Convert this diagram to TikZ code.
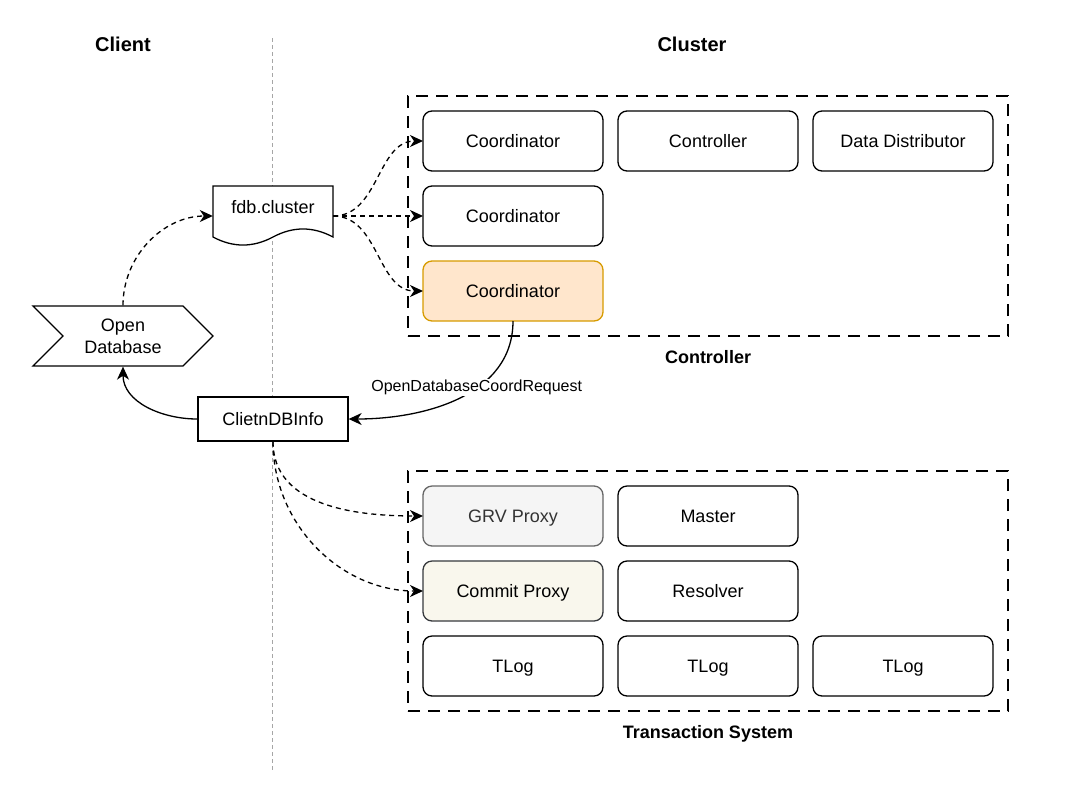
\documentclass[tikz,border=0pt]{standalone}
\usepackage{fontspec}
\setmainfont{Liberation Sans}
\usetikzlibrary{fit}
\usetikzlibrary{positioning}
\usetikzlibrary{shapes.symbols}
\usetikzlibrary{arrows.meta}
\definecolor{hotFill}{HTML}{FFE6CC}
\definecolor{hotLine}{HTML}{D79B00}
\definecolor{grvFill}{HTML}{F5F5F5}
\definecolor{grvLine}{HTML}{666666}
\definecolor{grvText}{HTML}{333333}
\definecolor{commitFill}{HTML}{F9F7ED}
\definecolor{commitLine}{HTML}{36393D}
\definecolor{splitLine}{HTML}{A6A6A6}
\tikzstyle{role} = [draw, line width=1.3pt, rounded corners=9pt, outer sep=0pt, minimum width=180pt, minimum height=60pt, text height=13pt, text depth=1pt, font=\fontsize{18}{22}\selectfont]
\tikzstyle{hot} = [fill=hotFill, draw=hotLine]
\tikzstyle{grv} = [fill=grvFill, draw=grvLine, text=grvText]
\tikzstyle{commit} = [fill=commitFill, draw=commitLine]
\tikzstyle{plain} = [draw, fill=white, line width=1.3pt, minimum width=150pt, minimum height=44pt, font=\fontsize{18}{22}\selectfont]
\tikzstyle{launch} = [draw, fill=white, line width=1.3pt, signal, signal to=east, signal from=west, signal pointer angle=90, minimum width=180pt, minimum height=60pt, inner sep=0pt, align=center, font=\fontsize{18}{22}\selectfont]
\tikzstyle{doc} = [minimum width=120pt, minimum height=60pt, inner sep=0pt, text height=13pt, text depth=18pt, font=\fontsize{18}{22}\selectfont]
\tikzstyle{group} = [draw, line width=1.3pt, dash pattern=on 12pt off 8pt, inner sep=15pt, outer sep=0pt]
\tikzstyle{title} = [font=\bfseries\fontsize{20}{24}\selectfont]
\tikzstyle{caption} = [font=\bfseries\fontsize{18}{22}\selectfont, text height=13pt, text depth=4pt]
\tikzstyle{split} = [draw=splitLine, line width=1pt, dash pattern=on 4pt off 3pt]
\tikzstyle{flow} = [draw, line width=1.3pt, -{Stealth[length=13pt, width=12pt, inset=4pt]}]
\tikzstyle{call} = [flow, dash pattern=on 5pt off 4pt]

\begin{document}
\begin{tikzpicture}[x=1pt, y=-1pt]
	\useasboundingbox (0,0) rectangle (1083,785);
	
	% client | cluster split
	\coordinate (splitTop) at (272,38);
	\coordinate (splitBottom) at (272,772);
	\path[split] (splitTop) -- (splitBottom);
	\node[title] (clientTitle) at (123,44) {Client};
	\node[title] (clusterTitle) at (692,44) {Cluster};
	
	\node[role] (coord1) at (513,141) {Coordinator};
	\node[role, right = 15pt of coord1] (controller) {Controller};
	\node[role, right = 15pt of controller] (distributor) {Data Distributor};
	\node[role, below = 15pt of coord1] (coord2) {Coordinator};
	\node[role, hot, below = 15pt of coord2] (coord3) {Coordinator};
	\node[group, fit = (coord1) (distributor) (coord3)] (controllerBox) {};
	\node[caption, below = 10.5pt of controllerBox] (controllerCaption) {Controller};
	
	\node[role, grv] (grvProxy) at (513,516) {GRV Proxy};
	\node[role, right = 15pt of grvProxy] (master) {Master};
	\node[role, commit, below = 15pt of grvProxy] (commitProxy) {Commit Proxy};
	\node[role, right = 15pt of commitProxy] (resolver) {Resolver};
	\node[role, below = 15pt of commitProxy] (tlog1) {TLog};
	\node[role, right = 15pt of tlog1] (tlog2) {TLog};
	\node[role, right = 15pt of tlog2] (tlog3) {TLog};
	\node[group, fit = (grvProxy) (tlog3)] (txnBox) {};
	\node[caption, below = 10.5pt of txnBox] (txnCaption) {Transaction System};
	
	% document outline of fdb.cluster
	\filldraw[fill=white, line width=1.3pt] (213,186) -- (333,186) -- (333,237)
		.. controls (313,226.3) and (293,226.3) .. (273,237)
		.. controls (253,247.7) and (233,247.7) .. (213,237) -- cycle;
	\node[doc] (fdb) at (273,216) {fdb.cluster};
	\node[launch] (openDb) at (123,336) {Open\\Database};
	\node[plain] (dbInfo) at (273,419) {ClietnDBInfo};
	
	\path[call] (openDb.north) to[out=90, in=180] (fdb.west);
	\path[call] (fdb.east) to[out=0, in=180] (coord1.west);
	\path[call] (fdb.east) -- (coord2.west);
	\path[call] (fdb.east) to[out=0, in=180] (coord3.west);
	\path[flow] (coord3.south) to[out=-90, in=0] node[pos=0.4, fill=white, inner sep=1pt, font=\fontsize{16}{19}\selectfont] {OpenDatabaseCoordRequest} (dbInfo.east);
	\path[flow] (dbInfo.west) to[out=180, in=-90] (openDb.south);
	\path[call] (dbInfo.south) to[out=-90, in=180] (grvProxy.west);
	\path[call] (dbInfo.south) to[out=-90, in=180] (commitProxy.west);
\end{tikzpicture}
\end{document}
